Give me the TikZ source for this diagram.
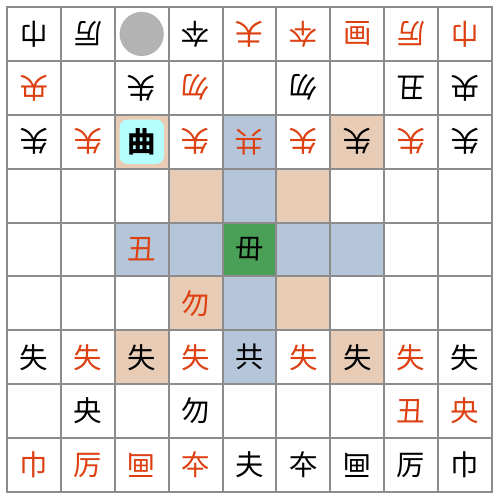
\documentclass[tikz,border=0pt]{standalone}
\usepackage{fontspec}
\newfontfamily\cjk{Noto Sans CJK SC}
\usepackage{tikz}
\definecolor{rougePiece}{RGB}{221, 64, 17}
\definecolor{beigeCase}{RGB}{232, 204, 182}
\definecolor{bleuCase}{RGB}{181, 198, 218}
\definecolor{vertCase}{RGB}{74, 160, 86}
\definecolor{cyanSel}{RGB}{182, 255, 255}
\definecolor{grisGrille}{RGB}{140, 140, 140}
\definecolor{grisRond}{RGB}{179, 179, 179}

\begin{document}
\begin{tikzpicture}[
  grille/.style={draw=grisGrille, line width=1.1pt},
  piece/.style={inner sep=0pt, font=\cjk\fontsize{15}{15}\selectfont},
  haut/.style={rotate=180},
  rouge/.style={text=rougePiece},
  sel/.style={rectangle, rounded corners=4pt, fill=cyanSel,
    minimum size=0.82cm, inner sep=0pt},
  rond/.style={circle, fill=grisRond, minimum size=0.82cm, inner sep=0pt},
]
\useasboundingbox (-0.13,-0.186) rectangle (9.167,9.13);
% cases colorees
\fill[beigeCase] (2,6) rectangle ++(1,1) (6,6) rectangle ++(1,1)
  (3,5) rectangle ++(1,1) (5,5) rectangle ++(1,1)
  (3,3) rectangle ++(1,1) (5,3) rectangle ++(1,1)
  (2,2) rectangle ++(1,1) (6,2) rectangle ++(1,1);
\fill[bleuCase] (4,6) rectangle ++(1,1) (4,5) rectangle ++(1,1)
  (2,4) rectangle ++(1,1) (3,4) rectangle ++(1,1)
  (5,4) rectangle ++(1,1) (6,4) rectangle ++(1,1)
  (4,3) rectangle ++(1,1) (4,2) rectangle ++(1,1);
\fill[vertCase] (4,4) rectangle ++(1,1);
\draw[grille] (0,0) grid (9,9);
\draw[grille] (0,0) rectangle (9,9);
% rangee 1
\node[piece, haut]        (r1c1) at (0.5,8.5) {巾};
\node[piece, haut]        (r1c2) at (1.5,8.5) {厉};
\node[rond]               (r1c3) at (2.5,8.5) {};
\node[piece, haut]        (r1c4) at (3.5,8.5) {夲};
\node[piece, haut, rouge] (r1c5) at (4.5,8.5) {夫};
\node[piece, haut, rouge] (r1c6) at (5.5,8.5) {夲};
\node[piece, rouge]       (r1c7) at (6.5,8.5) {画};
\node[piece, haut, rouge] (r1c8) at (7.5,8.5) {厉};
\node[piece, haut, rouge] (r1c9) at (8.5,8.5) {巾};
% rangee 2
\node[piece, haut, rouge] (r2c1) at (0.5,7.5) {央};
\node[piece, haut]        (r2c3) at (2.5,7.5) {失};
\node[piece, haut, rouge] (r2c4) at (3.5,7.5) {勿};
\node[piece, haut]        (r2c6) at (5.5,7.5) {勿};
\node[piece, haut]        (r2c8) at (7.5,7.5) {丑};
\node[piece, haut]        (r2c9) at (8.5,7.5) {央};
% rangee 3
\node[piece, haut]        (r3c1) at (0.5,6.5) {失};
\node[piece, haut, rouge] (r3c2) at (1.5,6.5) {失};
\node[sel]                (s3c3) at (2.5,6.5) {};
\node[piece]              (r3c3) at (2.5,6.5) {\bfseries 曲};
\node[piece, haut, rouge] (r3c4) at (3.5,6.5) {失};
\node[piece, haut, rouge] (r3c5) at (4.5,6.5) {共};
\node[piece, haut, rouge] (r3c6) at (5.5,6.5) {失};
\node[piece, haut]        (r3c7) at (6.5,6.5) {失};
\node[piece, haut, rouge] (r3c8) at (7.5,6.5) {失};
\node[piece, haut]        (r3c9) at (8.5,6.5) {失};
% milieu
\node[piece, rouge]       (r5c3) at (2.5,4.5) {丑};
\node[piece]              (r5c5) at (4.5,4.5) {毌};
\node[piece, rouge]       (r6c4) at (3.5,3.5) {勿};
% rangee 7
\node[piece]              (r7c1) at (0.5,2.5) {失};
\node[piece, rouge]       (r7c2) at (1.5,2.5) {失};
\node[piece]              (r7c3) at (2.5,2.5) {失};
\node[piece, rouge]       (r7c4) at (3.5,2.5) {失};
\node[piece]              (r7c5) at (4.5,2.5) {共};
\node[piece, rouge]       (r7c6) at (5.5,2.5) {失};
\node[piece]              (r7c7) at (6.5,2.5) {失};
\node[piece, rouge]       (r7c8) at (7.5,2.5) {失};
\node[piece]              (r7c9) at (8.5,2.5) {失};
% rangee 8
\node[piece]              (r8c2) at (1.5,1.5) {央};
\node[piece]              (r8c4) at (3.5,1.5) {勿};
\node[piece, rouge]       (r8c8) at (7.5,1.5) {丑};
\node[piece, rouge]       (r8c9) at (8.5,1.5) {央};
% rangee 9
\node[piece, rouge]       (r9c1) at (0.5,0.5) {巾};
\node[piece, rouge]       (r9c2) at (1.5,0.5) {厉};
\node[piece, haut, rouge] (r9c3) at (2.5,0.5) {画};
\node[piece, rouge]       (r9c4) at (3.5,0.5) {夲};
\node[piece]              (r9c5) at (4.5,0.5) {夫};
\node[piece]              (r9c6) at (5.5,0.5) {夲};
\node[piece, haut]        (r9c7) at (6.5,0.5) {画};
\node[piece]              (r9c8) at (7.5,0.5) {厉};
\node[piece]              (r9c9) at (8.5,0.5) {巾};
\end{tikzpicture}
\end{document}
